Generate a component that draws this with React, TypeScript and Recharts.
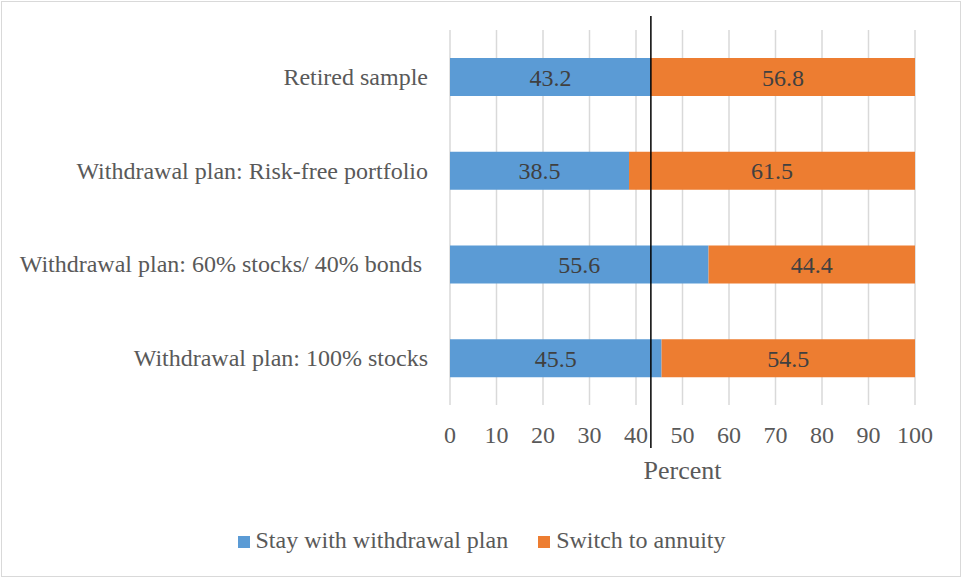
import { Bar, BarChart, CartesianGrid, LabelList, Legend, ReferenceLine, XAxis, YAxis } from "recharts";

const categories = [
  "Retired sample",
  "Withdrawal plan: Risk-free portfolio",
  "Withdrawal plan: 60% stocks/ 40% bonds ",
  "Withdrawal plan: 100% stocks",
];
const stay = [43.2, 38.5, 55.6, 45.5];
const switchToAnnuity = [56.8, 61.5, 44.4, 54.5];
const xTicks = [0, 10, 20, 30, 40, 50, 60, 70, 80, 90, 100];
const retiredStay = 43.2;

const data = categories.map((name, i) => ({ name, stay: stay[i], annuity: switchToAnnuity[i] }));

const FONT = '"Liberation Serif", "Times New Roman", serif';
const TEXT = "#595959";
const BLUE = "#5B9BD5";
const ORANGE = "#ED7D31";

function CategoryTick({ x, y, payload }: any) {
  return (
    <text x={x} y={y} textAnchor="end" dominantBaseline="central" fill={TEXT} fontSize={24} fontFamily={FONT} style={{ whiteSpace: "pre" }}>
      {payload.value}
    </text>
  );
}

function LongLine({ x1, y1, x2, y2 }: any) {
  return <line x1={x1} x2={x2} y1={Math.min(y1, y2) - 14} y2={Math.max(y1, y2) + 43} stroke="#000" strokeWidth={1.5} />;
}

const legendItems = [
  { label: "Stay with withdrawal plan", color: BLUE },
  { label: "Switch to annuity", color: ORANGE },
];

function LegendContent() {
  return (
    <div style={{ height: 70, paddingTop: 40, boxSizing: "border-box", display: "flex", justifyContent: "center", fontFamily: FONT, fontSize: 24, color: TEXT }}>
      {legendItems.map((it, i) => (
        <div key={it.label} style={{ display: "flex", alignItems: "center", height: 30, marginLeft: i ? 30 : 0 }}>
          <span style={{ width: 12, height: 12, background: it.color, marginRight: 6, marginTop: 3 }} />
          <span>{it.label}</span>
        </div>
      ))}
    </div>
  );
}

export default function App() {
  return (
    <div style={{ position: "absolute", left: 0, top: 0, width: 963, height: 579, background: "#fff" }}>
      <div style={{ position: "absolute", left: 1, top: 1, width: 960, height: 576, border: "1px solid #d9d9d9", boxSizing: "border-box", pointerEvents: "none" }} />
      <BarChart width={963} height={579} data={data} layout="vertical" margin={{ top: 30, right: 48, left: 0, bottom: 24 }} barSize={38}>
        <CartesianGrid horizontal={false} vertical stroke="#d9d9d9" strokeWidth={1.5} />
        <XAxis
          type="number"
          domain={[0, 100]}
          ticks={xTicks}
          tickLine={false}
          axisLine={false}
          tickSize={0}
          tickMargin={21}
          height={80}
          tick={{ fill: TEXT, fontSize: 24, fontFamily: FONT }}
          label={{ value: "Percent", position: "insideBottom", offset: 6, fill: TEXT, fontSize: 26, fontFamily: FONT }}
        />
        <YAxis type="category" dataKey="name" width={450} tickLine={false} axisLine={false} tickSize={0} tickMargin={22} tick={<CategoryTick />} />
        <Bar dataKey="stay" stackId="a" fill={BLUE} isAnimationActive={false}>
          <LabelList dataKey="stay" position="center" fill="#404040" fontSize={24} fontFamily={FONT} />
        </Bar>
        <Bar dataKey="annuity" stackId="a" fill={ORANGE} isAnimationActive={false}>
          <LabelList dataKey="annuity" position="center" fill="#404040" fontSize={24} fontFamily={FONT} />
        </Bar>
        <ReferenceLine x={retiredStay} ifOverflow="visible" shape={<LongLine />} />
        <Legend verticalAlign="bottom" wrapperStyle={{ left: 0, width: 963 }} content={<LegendContent />} />
      </BarChart>
    </div>
  );
}
